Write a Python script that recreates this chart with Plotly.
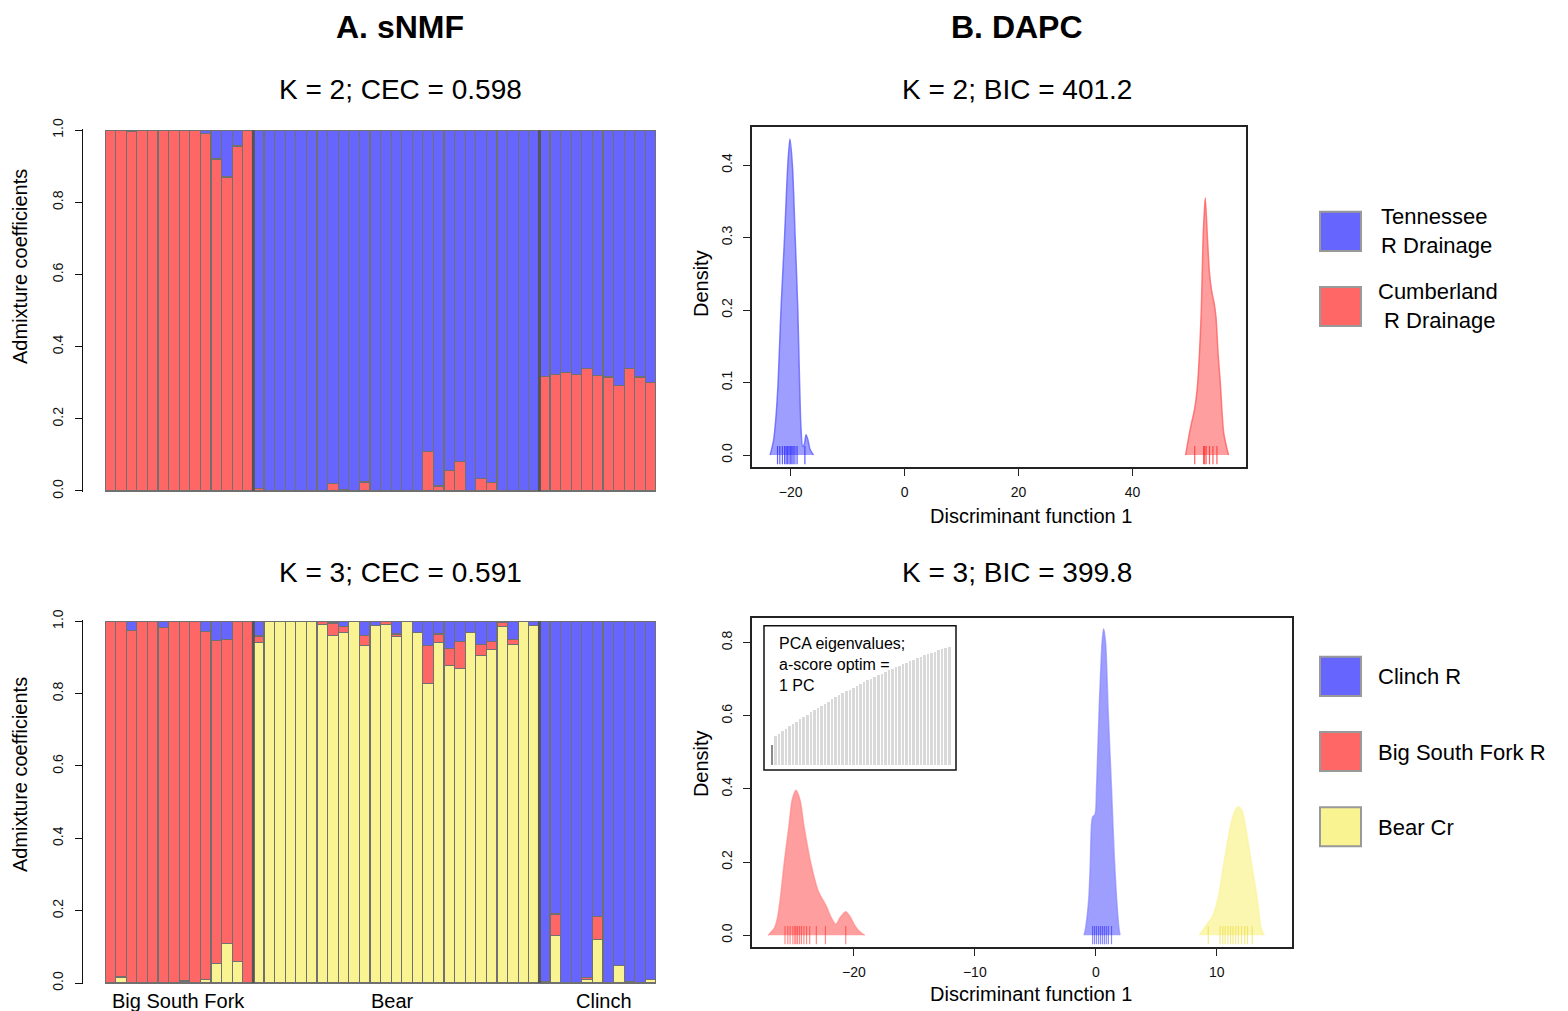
import plotly.graph_objects as go

W, H = 1568, 1011
def X(px): return px / W
def Y(py):
    # vertical pixel position -> paper coordinate (calibrated against the rendered page)
    return 1 - ((py - 11.6) / 0.98) / H

FONT = "Liberation Sans, Arial, sans-serif"
BLUE = "#6666FF"
RED = "#FF6666"
YELLOW = "#FAF392"

# ---------------- sNMF data ----------------
groups = ["Big South Fork", "Bear", "Clinch"]
group_sizes = [14, 27, 11]

# K = 2 (Cumberland = red, Tennessee = blue)
k2_cumberland = [1.0, 1.0, 0.996, 1.0, 1.0, 1.0, 1.0, 1.0, 1.0, 0.99, 0.92, 0.87, 0.956, 1.0,
                 0.007, 0, 0, 0, 0, 0, 0, 0.02, 0.003, 0, 0.025, 0, 0, 0, 0, 0, 0.11, 0.014, 0.057, 0.082,
                 0, 0.034, 0.023, 0, 0, 0, 0,
                 0.318, 0.323, 0.328, 0.323, 0.339, 0.321, 0.316, 0.293, 0.339, 0.316, 0.30]
k2_tennessee = [0, 0, 0.004, 0, 0, 0, 0, 0, 0, 0.01, 0.08, 0.13, 0.044, 0,
                0.993, 1, 1, 1, 1, 1, 1, 0.98, 0.997, 1, 0.975, 1, 1, 1, 1, 1, 0.89, 0.986, 0.943, 0.918,
                1, 0.966, 0.977, 1, 1, 1, 1,
                0.682, 0.677, 0.672, 0.677, 0.661, 0.679, 0.684, 0.707, 0.661, 0.684, 0.70]

# K = 3 (Bear = yellow, Big South Fork = red, Clinch = blue)
k3_bear = [0, 0.017, 0, 0, 0, 0, 0, 0.006, 0, 0.01, 0.055, 0.109, 0.06, 0,
           0.942, 1, 1, 1, 1, 1, 0.99, 0.96, 0.968, 1, 0.933, 0.988, 0.992, 0.958, 1, 0.968, 0.827,
           0.942, 0.878, 0.869, 0.968, 0.905, 0.921, 0.986, 0.935, 1, 0.988,
           0.005, 0.131, 0, 0, 0.01, 0.12, 0, 0.049, 0.005, 0, 0.011]
k3_bsf = [1.0, 0.983, 0.975, 1.0, 1.0, 0.983, 1.0, 0.994, 1.0, 0.962, 0.892, 0.841, 0.94, 1.0,
          0.017, 0, 0, 0, 0, 0, 0.01, 0.035, 0.018, 0, 0.028, 0, 0.008, 0.007, 0, 0, 0.107,
          0.023, 0.046, 0.076, 0, 0.030, 0.024, 0.011, 0.014, 0, 0,
          0, 0.06, 0, 0, 0.006, 0.065, 0, 0, 0, 0, 0]
k3_clinch = [0, 0, 0.025, 0, 0, 0.017, 0, 0, 0, 0.028, 0.053, 0.05, 0, 0,
             0.041, 0, 0, 0, 0, 0, 0, 0.005, 0.014, 0, 0.039, 0.012, 0, 0.035, 0, 0.032, 0.066,
             0.035, 0.076, 0.055, 0.032, 0.065, 0.055, 0.003, 0.051, 0, 0.012,
             0.995, 0.809, 1, 1, 0.984, 0.815, 1, 0.951, 0.995, 1, 0.989]

# ---------------- DAPC data ----------------
# K = 2 density curves (Discriminant function 1, density)
k2_tenn_x = [-23.6, -23.0, -22.6, -22.2, -21.7, -21.07, -20.5, -20.13, -19.69, -19.2, -18.74,
             -18.43, -18.2, -17.9, -17.6, -17.3, -17.0, -16.6, -16.0]
k2_tenn_y = [0, 0.02, 0.05, 0.1, 0.2, 0.3, 0.4, 0.436, 0.4, 0.3, 0.2,
             0.1, 0.04, 0.012, 0.015, 0.028, 0.022, 0.008, 0]
k2_cumb_x = [49.3, 49.74, 50.36, 50.8, 51.1, 51.43, 52.06, 52.37, 52.75, 53.13, 53.5, 53.9,
             54.3, 54.64, 55.0, 55.39, 56.0, 56.83]
k2_cumb_y = [0, 0.02, 0.045, 0.06, 0.075, 0.1, 0.2, 0.3, 0.355, 0.3, 0.25, 0.225,
             0.21, 0.19, 0.14, 0.1, 0.03, 0]
k2_tenn_rug = [-22.3, -21.9, -21.45, -21.07, -20.8, -20.57, -20.3, -20.06, -19.8, -19.56,
               -19.25, -18.87, -17.5]
k2_cumb_rug = [50.9, 52.46, 52.65, 52.9, 53.5, 54.1, 54.8]

# K = 3 density curves
k3_bsf_x = [-27.08, -26.56, -26.3, -26.08, -25.75, -25.36, -25.1, -24.78, -24.45, -24.13,
            -23.58, -22.94, -22.29, -21.9, -21.48, -21.1, -20.67, -20.3, -19.9, -19.53, -19.1]
k3_bsf_y = [0, 0.02, 0.05, 0.1, 0.2, 0.3, 0.37, 0.396, 0.37, 0.3,
            0.2, 0.12, 0.08, 0.05, 0.03, 0.05, 0.064, 0.05, 0.025, 0.01, 0]
k3_clinch_x = [-0.97, -0.84, -0.58, -0.45, -0.36, -0.26, -0.06, 0.06, 0.26, 0.52, 0.65, 0.81,
               1.04, 1.3, 1.55, 1.72, 1.91, 2.0]
k3_clinch_y = [0, 0.02, 0.1, 0.2, 0.3, 0.323, 0.33, 0.4, 0.6, 0.8, 0.838, 0.8,
               0.6, 0.4, 0.2, 0.1, 0.02, 0]
k3_bear_x = [8.55, 8.97, 9.3, 9.62, 10.1, 10.6, 11.14, 11.5, 11.79, 12.1, 12.37, 12.86, 13.35,
             13.67, 13.93]
k3_bear_y = [0, 0.02, 0.035, 0.05, 0.1, 0.2, 0.3, 0.34, 0.351, 0.34, 0.3, 0.2, 0.1, 0.02, 0]
k3_bsf_rug = [-25.69, -25.46, -25.27, -25.04, -24.88, -24.78, -24.65, -24.49, -24.33, -24.13,
              -23.91, -23.65, -23.1, -22.35, -20.67]
k3_clinch_rug = [-0.26, -0.1, 0.06, 0.23, 0.39, 0.55, 0.71, 0.87, 1.04, 1.3]
k3_bear_rug = [9.3, 10.27, 10.5, 10.69, 10.92, 11.14, 11.34, 11.57, 11.79, 12.05, 12.31, 12.54, 12.93]

# PCA eigenvalue inset (relative heights)
pca_eig = [0.17, 0.241, 0.262, 0.283, 0.304, 0.325, 0.345, 0.365, 0.385, 0.404, 0.423, 0.442,
           0.461, 0.479, 0.497, 0.515, 0.533, 0.550, 0.567, 0.584, 0.601, 0.617, 0.633, 0.649,
           0.665, 0.680, 0.695, 0.710, 0.725, 0.739, 0.753, 0.767, 0.781, 0.795, 0.808, 0.821,
           0.834, 0.847, 0.860, 0.872, 0.884, 0.896, 0.908, 0.919, 0.930, 0.941, 0.952, 0.962,
           0.972, 0.982, 0.992]
n_pc_retained = 1

k2_legend = ["Tennessee<br>R Drainage", "Cumberland<br> R Drainage"]
k3_legend = ["Clinch R", "Big South Fork R", "Bear Cr"]

# ---------------- figure ----------------
n_ind = sum(group_sizes)
ind = list(range(n_ind))
fig = go.Figure()

bar_line = dict(color="#707070", width=1.2)

def add_bar(vals, color, xa, ya):
    fig.add_trace(go.Bar(x=ind, y=vals, width=1, marker=dict(color=color, line=bar_line),
                         xaxis=xa, yaxis=ya, showlegend=False, hoverinfo="skip"))

add_bar(k2_cumberland, RED, "x", "y")
add_bar(k2_tennessee, BLUE, "x", "y")
add_bar(k3_bear, YELLOW, "x2", "y2")
add_bar(k3_bsf, RED, "x2", "y2")
add_bar(k3_clinch, BLUE, "x2", "y2")

def add_density(xs, ys, fill, line, xa, ya):
    fig.add_trace(go.Scatter(x=xs, y=ys, mode="lines", fill="tozeroy", fillcolor=fill,
                             line=dict(color=line, width=1.5, shape="spline", smoothing=0.7),
                             xaxis=xa, yaxis=ya, showlegend=False, hoverinfo="skip"))

def add_rug(xs, color, xa, ya):
    fig.add_trace(go.Scatter(x=xs, y=[0] * len(xs), mode="markers",
                             marker=dict(symbol="line-ns", size=13, line=dict(color=color, width=1.2)),
                             xaxis=xa, yaxis=ya, showlegend=False, hoverinfo="skip"))

add_density(k2_tenn_x, k2_tenn_y, "rgba(120,120,255,0.72)", "rgba(90,90,255,0.75)", "x3", "y3")
add_density(k2_cumb_x, k2_cumb_y, "rgba(255,120,120,0.72)", "rgba(255,90,90,0.75)", "x3", "y3")
add_rug(k2_tenn_rug, "rgba(40,40,255,0.75)", "x3", "y3")
add_rug(k2_cumb_rug, "rgba(255,40,40,0.75)", "x3", "y3")

add_density(k3_bsf_x, k3_bsf_y, "rgba(255,120,120,0.72)", "rgba(255,130,130,0.6)", "x4", "y4")
add_density(k3_clinch_x, k3_clinch_y, "rgba(120,120,255,0.72)", "rgba(130,130,255,0.6)", "x4", "y4")
add_density(k3_bear_x, k3_bear_y, "rgba(250,243,150,0.75)", "rgba(250,243,150,0.6)", "x4", "y4")
add_rug(k3_bsf_rug, "rgba(255,40,40,0.55)", "x4", "y4")
add_rug(k3_clinch_rug, "rgba(40,40,255,0.55)", "x4", "y4")
add_rug(k3_bear_rug, "rgba(235,220,60,0.6)", "x4", "y4")

pcs = list(range(1, len(pca_eig) + 1))
fig.add_trace(go.Bar(x=pcs, y=pca_eig, width=0.72,
                     marker=dict(color=["#8a8a8a" if p <= n_pc_retained else "#d9d9d9" for p in pcs],
                                 line=dict(width=0)),
                     xaxis="x5", yaxis="y5", showlegend=False, hoverinfo="skip"))

tickfont = dict(family=FONT, size=14, color="#111")
adm_ticks = [0, 0.2, 0.4, 0.6, 0.8, 1.0]
adm_text = ["%.1f" % v for v in adm_ticks]

def bar_yaxis(top, bottom):
    return dict(domain=[Y(bottom + 0.6), Y(top - 0.6)], range=[-0.003, 1.003], anchor="free",
                position=X(82), showline=True, linecolor="#111", linewidth=1, ticks="outside",
                ticklen=7, tickcolor="#111", tickvals=adm_ticks, ticktext=adm_text, tickangle=-90,
                tickfont=tickfont, showgrid=False, zeroline=False, ticklabelstandoff=6)

hide_x = dict(showline=False, showticklabels=False, ticks="", showgrid=False, zeroline=False)

box = dict(showline=True, mirror=True, linecolor="#222", linewidth=1.5, ticks="outside",
           ticklen=7, tickcolor="#222", tickwidth=1.2, showgrid=False, zeroline=False,
           tickfont=tickfont)

fig.update_layout(
    width=W, height=H, autosize=False,
    margin=dict(l=0, r=0, t=0, b=0),
    paper_bgcolor="white", plot_bgcolor="rgba(0,0,0,0)",
    barmode="stack", showlegend=False,
    font=dict(family=FONT, color="#111"),
    xaxis=dict(domain=[X(105), X(656)], range=[-0.5, n_ind - 0.5], anchor="y", **hide_x),
    yaxis=bar_yaxis(130, 491),
    xaxis2=dict(domain=[X(105), X(656)], range=[-0.5, n_ind - 0.5], anchor="y2", **hide_x),
    yaxis2=bar_yaxis(620, 982),
    xaxis3=dict(domain=[X(752), X(1246)], range=[-26.78, 59.9], anchor="y3",
                tickvals=[-20, 0, 20, 40], ticklabelstandoff=4, **box),
    yaxis3=dict(domain=[Y(467), Y(127)], range=[-0.017, 0.4529], anchor="x3",
                tickvals=[0, 0.1, 0.2, 0.3, 0.4], ticktext=["0.0", "0.1", "0.2", "0.3", "0.4"],
                tickangle=-90, ticklabelstandoff=6, **box),
    xaxis4=dict(domain=[X(752), X(1292)], range=[-28.42, 16.22], anchor="y4",
                tickvals=[-20, -10, 0, 10], ticklabelstandoff=4, **box),
    yaxis4=dict(domain=[Y(946), Y(617)], range=[-0.0337, 0.868], anchor="x4",
                tickvals=[0, 0.2, 0.4, 0.6, 0.8], ticktext=["0.0", "0.2", "0.4", "0.6", "0.8"],
                tickangle=-90, ticklabelstandoff=6, **box),
    xaxis5=dict(domain=[X(770), X(951)], range=[0.5, len(pca_eig) + 0.5], anchor="y5", visible=False),
    yaxis5=dict(domain=[Y(764), Y(645)], range=[0, 1.0], anchor="x5", visible=False),
)

# group separators
shapes = []
cum = 0
for s in group_sizes[:-1]:
    cum += s
    for ya, xa in (("y", "x"), ("y2", "x2")):
        shapes.append(dict(type="line", xref=xa, yref=ya, x0=cum - 0.5, x1=cum - 0.5, y0=0, y1=1,
                           line=dict(color="#555555", width=3)))

# inset border
shapes.append(dict(type="rect", xref="paper", yref="paper", x0=X(764), x1=X(956), y0=Y(769), y1=Y(625),
                   line=dict(color="#111", width=1.5)))

# legend squares
def legend_square(top, color):
    shapes.append(dict(type="rect", xref="paper", yref="paper", x0=X(1320), x1=X(1361),
                       y0=Y(top + 39), y1=Y(top), fillcolor=color, line=dict(color="#999", width=2)))

anns = []
def txt(text, x, y, size, bold=False, xanchor="center", yanchor="middle", angle=0, align="center"):
    anns.append(dict(text=("<b>%s</b>" % text) if bold else text, x=X(x), y=Y(y), xref="paper",
                     yref="paper", showarrow=False, xanchor=xanchor, yanchor=yanchor, textangle=angle,
                     align=align, font=dict(family=FONT, size=size, color="#000")))

legend_square(212, BLUE)
legend_square(287, RED)
txt(k2_legend[0], 1379, 231, 22, xanchor="left", align="left")
txt(k2_legend[1], 1376, 306, 22, xanchor="left", align="left")
for top, color, lab in zip([656, 731, 806], [BLUE, RED, YELLOW], k3_legend):
    legend_square(top, color)
    txt(lab, 1376, top + 20, 22, xanchor="left", align="left")

txt("A. sNMF", 400, 28, 32, bold=True)
txt("B. DAPC", 1017, 28, 32, bold=True)
txt("K = 2; CEC = 0.598", 400, 90, 28)
txt("K = 2; BIC = 401.2", 1017, 90, 28)
txt("K = 3; CEC = 0.591", 400, 572, 28)
txt("K = 3; BIC = 399.8", 1017, 572, 28)
txt("Admixture coefficients", 20, 267, 20, angle=-90)
txt("Admixture coefficients", 20, 774, 20, angle=-90)
txt("Density", 701, 284, 20, angle=-90)
txt("Density", 701, 763, 20, angle=-90)
txt("Discriminant function 1", 1031, 515, 20)
txt("Discriminant function 1", 1031, 992, 20)
txt("PCA eigenvalues;<br>a-score optim =<br>" + "%d PC" % n_pc_retained, 777, 632, 16,
    xanchor="left", yanchor="top", align="left")

# group labels under K=3 bars
for name, px in zip(groups, [178, 392, 604]):
    txt(name, px, 999, 20)

fig.update_layout(shapes=shapes, annotations=anns)

post = ("var d=document.getElementById('{plot_id}');"
        "d.style.position='fixed';d.style.top='0px';d.style.left='0px';"
        "document.body.style.margin='0';document.documentElement.style.overflow='hidden';")
fig.write_html("out.html", config={"displayModeBar": False}, post_script=post)
